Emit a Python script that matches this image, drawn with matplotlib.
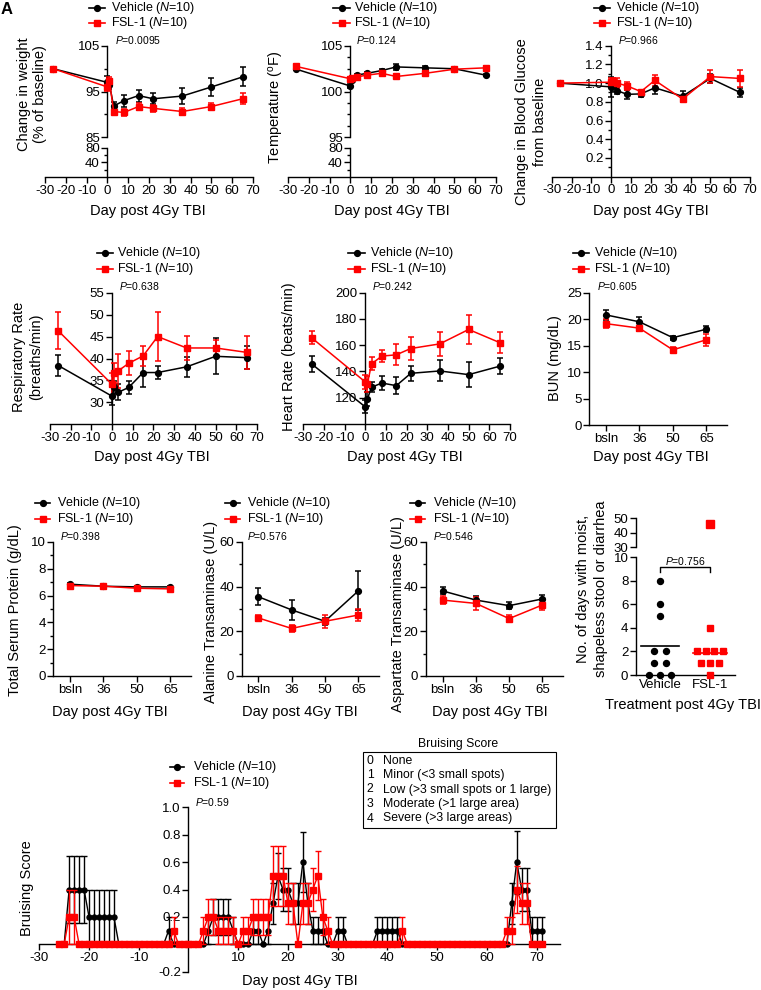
import numpy as np
import matplotlib
matplotlib.use('Agg')
import matplotlib.pyplot as plt
from matplotlib.lines import Line2D
from matplotlib.patches import Rectangle
from matplotlib.ticker import FixedLocator, FormatStrFormatter

plt.rcParams['font.family'] = ['Liberation Sans', 'DejaVu Sans']
plt.rcParams['mathtext.fontset'] = 'custom'
plt.rcParams['mathtext.rm'] = 'Liberation Sans'
plt.rcParams['mathtext.it'] = 'Liberation Sans:italic'
plt.rcParams['axes.unicode_minus'] = False
plt.rcParams['axes.linewidth'] = 1.0

# ---------------- DATA ----------------
series_names = ['Vehicle', 'FSL-1']
n_per_group = [10, 10]
days = [-26, 0, 1, 3, 8, 15, 22, 36, 50, 65]

weight_veh = [100, 97.0, 96.5, 91.8, 93.0, 94.1, 93.4, 94.0, 96.0, 98.2]
weight_veh_err = [0, 1.3, 1.0, 0.8, 1.3, 1.3, 1.2, 1.8, 2.0, 2.1]
weight_fsl = [100, 96.0, 97.3, 90.6, 90.4, 91.7, 91.3, 90.6, 91.7, 93.4]
weight_fsl_err = [0, 0.8, 0.8, 0.6, 0.8, 0.8, 0.8, 0.7, 0.8, 1.2]

temp_veh = [102.45, 100.6, 101.3, 101.8, 102.0, 102.3, 102.7, 102.6, 102.5, 101.8]
temp_veh_err = [0.1, 0.2, 0.15, 0.1, 0.15, 0.15, 0.3, 0.15, 0.1, 0.15]
temp_fsl = [102.75, 101.4, 101.5, 101.6, 101.8, 102.0, 101.65, 102.0, 102.45, 102.6]
temp_fsl_err = [0.1, 0.15, 0.15, 0.15, 0.2, 0.15, 0.15, 0.35, 0.1, 0.15]

gluc_veh = [1.0, 0.96, 0.97, 0.92, 0.88, 0.885, 0.95, 0.86, 1.05, 0.90]
gluc_veh_err = [0, 0.11, 0.06, 0.04, 0.05, 0.03, 0.07, 0.06, 0.05, 0.05]
gluc_fsl = [1.0, 1.01, 1.02, 1.0, 0.97, 0.91, 1.03, 0.83, 1.07, 1.05]
gluc_fsl_err = [0, 0.05, 0.04, 0.05, 0.04, 0.02, 0.06, 0.03, 0.07, 0.09]

resp_veh = [38.4, 31.4, 33.4, 32.3, 33.4, 36.8, 36.8, 38.1, 40.5, 40.2]
resp_veh_err = [2.5, 2.0, 1.5, 1.8, 1.5, 3.2, 1.4, 2.3, 4.1, 2.6]
resp_fsl = [46.3, 34.1, 36.7, 37.2, 38.9, 40.6, 45.0, 42.4, 42.4, 41.4]
resp_fsl_err = [4.2, 2.5, 2.3, 3.9, 2.7, 2.2, 5.5, 2.7, 1.8, 3.8]

hr_veh = [145.8, 113, 119, 128, 131.2, 129.2, 138.6, 140.4, 137.6, 144]
hr_veh_err = [6, 5, 5, 4, 5, 6.5, 5.5, 8, 9.5, 6]
hr_fsl = [165.7, 132, 130.4, 145.8, 151.7, 152.7, 157.5, 161, 172, 162]
hr_fsl_err = [5, 5, 6, 5, 4.5, 8, 9, 9, 11, 8]

chem_days = ['bsln', '36', '50', '65']
bun_veh = [20.8, 19.5, 16.5, 18.1]
bun_veh_err = [1.0, 1.0, 0.4, 0.6]
bun_fsl = [19.15, 18.3, 14.2, 16.1]
bun_fsl_err = [0.8, 0.5, 0.5, 1.1]

tsp_veh = [6.85, 6.7, 6.65, 6.65]
tsp_veh_err = [0.1, 0.08, 0.08, 0.08]
tsp_fsl = [6.75, 6.7, 6.55, 6.5]
tsp_fsl_err = [0.1, 0.08, 0.1, 0.1]

alt_veh = [35.5, 29.6, 24.5, 38.1]
alt_veh_err = [3.8, 4.5, 1.5, 8.7]
alt_fsl = [26.0, 21.3, 24.5, 27.3]
alt_fsl_err = [1.2, 1.7, 3.0, 2.8]

ast_veh = [38.1, 34.0, 31.5, 34.5]
ast_veh_err = [1.6, 2.0, 1.5, 1.8]
ast_fsl = [34.0, 32.5, 25.7, 31.8]
ast_fsl_err = [1.8, 3.0, 1.6, 2.2]

stool_veh = [8, 6, 5, 2, 2, 1, 1, 0, 0, 0]
stool_fsl = [46, 4, 2, 2, 2, 2, 1, 1, 1, 0]
stool_lines = [2.5, 1.9]

p_values = {'weight': '0.0095', 'temp': '0.124', 'gluc': '0.966', 'resp': '0.638',
            'hr': '0.242', 'bun': '0.605', 'tsp': '0.398', 'alt': '0.576',
            'ast': '0.546', 'stool': '0.756', 'bruise': '0.59'}

bruise_days = [-26, -25, -24, -23, -22, -21, -20, -19, -18, -17, -16, -15,
               -14, -13, -12, -11, -10, -9, -8, -7, -6, -5,
               -4, -3, -2, -1, 0, 1, 2, 3,
               4, 5, 6, 7, 8, 9, 10, 11, 12, 13, 14, 15,
               16, 17, 18, 19, 20, 21, 22, 23, 24, 25, 26, 27, 28, 29, 30, 31,
               32, 33, 34, 35, 36, 37, 38, 39, 40, 41, 42, 43, 44, 45, 46, 47,
               48, 49, 50, 51, 52, 53, 54, 55, 56, 57, 58, 59, 60, 61, 62, 63,
               64, 65, 66, 67, 68, 69, 70, 71]
bruise_veh = [0, 0, 0.4, 0.4, 0.4, 0.4, 0.2, 0.2, 0.2, 0.2, 0.2, 0.2,
              0, 0, 0, 0, 0, 0, 0, 0, 0, 0,
              0.1, 0, 0, 0, 0, 0, 0, 0,
              0.1, 0.2, 0.2, 0.2, 0.2, 0.1, 0, 0, 0, 0.1, 0.1, 0,
              0.1, 0.3, 0.5, 0.4, 0.4, 0.3, 0.3, 0.6, 0.3, 0.1, 0.1, 0.1, 0, 0, 0.1, 0.1,
              0, 0, 0, 0, 0, 0, 0.1, 0.1, 0.1, 0.1, 0.1, 0, 0, 0, 0, 0,
              0, 0, 0, 0, 0, 0, 0, 0, 0, 0, 0, 0, 0, 0, 0, 0,
              0, 0.3, 0.6, 0.4, 0.4, 0.1, 0.1, 0.1]
bruise_veh_err = [0, 0, 0.245, 0.245, 0.245, 0.245, 0.2, 0.2, 0.2, 0.2, 0.2, 0.2,
                  0, 0, 0, 0, 0, 0, 0, 0, 0, 0,
                  0.1, 0, 0, 0, 0, 0, 0, 0,
                  0.1, 0.13, 0.13, 0.13, 0.13, 0.1, 0, 0, 0, 0.1, 0.1, 0,
                  0.1, 0.15, 0.17, 0.16, 0.16, 0.15, 0.15, 0.22, 0.15, 0.1, 0.1, 0.1, 0, 0, 0.1, 0.1,
                  0, 0, 0, 0, 0, 0, 0.1, 0.1, 0.1, 0.1, 0.1, 0, 0, 0, 0, 0,
                  0, 0, 0, 0, 0, 0, 0, 0, 0, 0, 0, 0, 0, 0, 0, 0,
                  0, 0.15, 0.23, 0.16, 0.16, 0.1, 0.1, 0.1]
bruise_fsl = [0, 0, 0.2, 0.2, 0, 0, 0, 0, 0, 0, 0, 0,
              0, 0, 0, 0, 0, 0, 0, 0, 0, 0,
              0, 0.1, 0, 0, 0, 0, 0, 0.1,
              0.2, 0.2, 0.1, 0.1, 0.1, 0.1, 0, 0.1, 0.1, 0.2, 0.2, 0.2,
              0.2, 0.5, 0.5, 0.5, 0.3, 0.3, 0, 0.3, 0.3, 0.4, 0.5, 0.2, 0.1, 0, 0, 0,
              0, 0, 0, 0, 0, 0, 0, 0, 0, 0, 0, 0.1, 0, 0, 0, 0,
              0, 0, 0, 0, 0, 0, 0, 0, 0, 0, 0, 0, 0, 0, 0, 0,
              0.1, 0.1, 0.4, 0.3, 0.3, 0, 0, 0]
bruise_fsl_err = [0, 0, 0.2, 0.2, 0, 0, 0, 0, 0, 0, 0, 0,
                  0, 0, 0, 0, 0, 0, 0, 0, 0, 0,
                  0, 0.1, 0, 0, 0, 0, 0, 0.1,
                  0.13, 0.13, 0.1, 0.1, 0.1, 0.1, 0, 0.1, 0.1, 0.13, 0.13, 0.13,
                  0.13, 0.22, 0.22, 0.22, 0.15, 0.15, 0, 0.15, 0.15, 0.16, 0.18, 0.13, 0.1, 0, 0, 0,
                  0, 0, 0, 0, 0, 0, 0, 0, 0, 0, 0, 0.1, 0, 0, 0, 0,
                  0, 0, 0, 0, 0, 0, 0, 0, 0, 0, 0, 0, 0, 0, 0, 0,
                  0.1, 0.1, 0.17, 0.15, 0.15, 0, 0, 0]

bruise_scale = ['None', 'Minor (<3 small spots)', 'Low (>3 small spots or 1 large)',
                'Moderate (>1 large area)', 'Severe (>3 large areas)']

# ---------------- FIGURE ----------------
W, H = 761, 990
fig = plt.figure(figsize=(W / 100, H / 100), dpi=100)

TICK_FS = 9.5
LAB_FS = 10.5
LEG_FS = 9
P_FS = 7.5
VEH_C = 'black'
FSL_C = '#ff0000'


def px_axes(left, top, right, bottom):
    return fig.add_axes([left / W, 1 - bottom / H, (right - left) / W, (bottom - top) / H])


def ftext(x, y, s, **kw):
    return fig.text(x / W, 1 - y / H, s, **kw)


def style(ax):
    for s in ['top', 'right']:
        ax.spines[s].set_visible(False)
    ax.tick_params(which='major', length=4, width=1, labelsize=TICK_FS, pad=1.5)
    ax.tick_params(which='minor', length=2.5, width=1)
    ax.patch.set_alpha(0)


def series(ax, x, y, e, color, marker, ms, lw=1.1, cap=2.5):
    ax.errorbar(x, y, yerr=e, color=color, marker=marker, ms=ms, lw=lw,
                elinewidth=lw, capsize=cap, capthick=lw, zorder=3)


def legend(x0, x1, xt, y1, y2):
    items = [(y1, VEH_C, 'o', 4.2, series_names[0], n_per_group[0]),
             (y2, FSL_C, 's', 5.0, series_names[1], n_per_group[1])]
    for y, c, m, ms, name, n in items:
        yy = 1 - y / H
        fig.add_artist(Line2D([x0 / W, x1 / W], [yy, yy], color=c, lw=1.2, transform=fig.transFigure))
        fig.add_artist(Line2D([(x0 + x1) / 2 / W], [yy], color=c, marker=m, ms=ms, transform=fig.transFigure))
        ftext(xt, y, f'{name} ($\\mathit{{N}}$={n})', fontsize=LEG_FS, va='center', ha='left')


def ptext(x, y, key):
    ftext(x, y, f'$\\mathit{{P}}$={p_values[key]}', fontsize=P_FS, va='center', ha='left')


def ylab(x, y, s, ls=1.25):
    ftext(x, y, s, fontsize=LAB_FS, rotation=90, ha='center', va='center',
          multialignment='center', linespacing=ls)


def xlab(x, y, s):
    ftext(x, y, s, fontsize=LAB_FS, ha='center', va='center')


def broken_timecourse(left, right, top, brk_top, brk_bot, bottom, up_lim, up_ticks, up_minor,
                      lo_lim, lo_ticks, lo_minor, veh, veh_e, fsl, fsl_e):
    axu = px_axes(left, top, right, brk_top)
    axl = px_axes(left, brk_bot, right, bottom)
    for ax in (axu, axl):
        style(ax)
        ax.set_xlim(-30, 70)
        ax.spines['left'].set_position(('data', 0))
    axu.spines['bottom'].set_visible(False)
    axu.tick_params(axis='x', which='both', bottom=False, labelbottom=False)
    axu.set_ylim(*up_lim)
    axu.yaxis.set_major_locator(FixedLocator(up_ticks))
    axu.yaxis.set_minor_locator(FixedLocator(up_minor))
    axl.set_ylim(*lo_lim)
    axl.yaxis.set_major_locator(FixedLocator(lo_ticks))
    axl.yaxis.set_minor_locator(FixedLocator(lo_minor))
    axl.set_xticks(range(-30, 71, 10))
    series(axu, days, veh, veh_e, VEH_C, 'o', 4.2)
    series(axu, days, fsl, fsl_e, FSL_C, 's', 5.0)
    return axu, axl


def timecourse(left, right, top, bottom, ylim, yticks, yminor, veh, veh_e, fsl, fsl_e, fmt=None):
    ax = px_axes(left, top, right, bottom)
    style(ax)
    ax.set_xlim(-30, 70)
    ax.set_ylim(*ylim)
    ax.spines['left'].set_position(('data', 0))
    ax.set_xticks(range(-30, 71, 10))
    ax.yaxis.set_major_locator(FixedLocator(yticks))
    if yminor is not None:
        ax.yaxis.set_minor_locator(FixedLocator(yminor))
    if fmt:
        ax.yaxis.set_major_formatter(FormatStrFormatter(fmt))
    series(ax, days, veh, veh_e, VEH_C, 'o', 4.2)
    series(ax, days, fsl, fsl_e, FSL_C, 's', 5.0)
    return ax


def category(left, right, top, bottom, ylim, yticks, yminor, veh, veh_e, fsl, fsl_e):
    ax = px_axes(left, top, right, bottom)
    style(ax)
    x = np.arange(len(chem_days))
    ax.set_xlim(-0.5, 3.62)
    ax.set_ylim(*ylim)
    ax.set_xticks(x)
    ax.set_xticklabels(chem_days)
    ax.yaxis.set_major_locator(FixedLocator(yticks))
    if yminor is not None:
        ax.yaxis.set_minor_locator(FixedLocator(yminor))
    series(ax, x, veh, veh_e, VEH_C, 'o', 4.2)
    series(ax, x, fsl, fsl_e, FSL_C, 's', 5.0)
    return ax


# Panel letter
ftext(1, 9, 'A', fontsize=12, fontweight='bold', va='center', ha='left')

# ---------- Row 1 ----------
broken_timecourse(45, 253, 46, 137, 147.5, 177, (85, 105), [85, 95, 105], [90, 100],
                  (0, 80), [40, 80], [20, 60], weight_veh, weight_veh_err, weight_fsl, weight_fsl_err)
legend(89, 105, 111.5, 7.5, 23)
ptext(115, 39.5, 'weight')
ylab(32, 94, 'Change in weight\n(% of baseline)')
xlab(148, 211, 'Day post 4Gy TBI')

broken_timecourse(288, 496, 46, 137, 147.5, 177, (95, 105), [95, 100, 105],
                  [96.25, 97.5, 98.75, 101.25, 102.5, 103.75],
                  (0, 80), [40, 80], [20, 60], temp_veh, temp_veh_err, temp_fsl, temp_fsl_err)
legend(333, 350, 354, 7.5, 23)
ptext(356, 39.5, 'temp')
ylab(277, 107, 'Temperature ($^{\\mathrm{o}}$F)')
xlab(392, 211, 'Day post 4Gy TBI')

timecourse(551.7, 750, 45.7, 176.7, (0, 1.4), [0.2, 0.4, 0.6, 0.8, 1.0, 1.2, 1.4],
           [0.1, 0.3, 0.5, 0.7, 0.9, 1.1, 1.3], gluc_veh, gluc_veh_err, gluc_fsl, gluc_fsl_err, fmt='%.1f')
legend(594, 610, 616, 7.5, 23)
ptext(618, 39.5, 'gluc')
ylab(522, 122, 'Change in Blood Glucose')
ylab(540.5, 122, 'from baseline')
xlab(651, 211, 'Day post 4Gy TBI')

# ---------- Row 2 ----------
timecourse(50, 257, 292.7, 424.3, (25, 55), [30, 35, 40, 45, 50, 55], None,
           resp_veh, resp_veh_err, resp_fsl, resp_fsl_err)
legend(97, 113, 117.3, 252.7, 269)
ptext(119.3, 286, 'resp')
ylab(27.5, 357, 'Respiratory Rate\n(breaths/min)')
xlab(152, 457, 'Day post 4Gy TBI')

timecourse(303.3, 510, 292.7, 424, (100, 200), [120, 140, 160, 180, 200], None,
           hr_veh, hr_veh_err, hr_fsl, hr_fsl_err)
legend(348, 365, 370, 252.7, 269)
ptext(371.7, 286, 'hr')
ylab(289, 357, 'Heart Rate (beats/min)')
xlab(405, 457, 'Day post 4Gy TBI')

category(589.3, 727, 292.7, 425, (0, 25), [0, 5, 10, 15, 20, 25], None,
         bun_veh, bun_veh_err, bun_fsl, bun_fsl_err)
legend(572.7, 589.3, 594.3, 252.7, 269)
ptext(596.7, 286, 'bun')
ylab(555, 358, 'BUN (mg/dL)')
xlab(651, 457, 'Day post 4Gy TBI')

# ---------- Row 3 ----------
category(53.3, 191, 542, 676, (0, 10), [0, 2, 4, 6, 8, 10], [1, 3, 5, 7, 9],
         tsp_veh, tsp_veh_err, tsp_fsl, tsp_fsl_err)
legend(35, 50, 57.3, 503, 519.3)
ptext(60, 536, 'tsp')
ylab(15, 610, 'Total Serum Protein (g/dL)')
xlab(110, 712, 'Day post 4Gy TBI')

category(241.6, 379, 542, 676, (0, 60), [0, 20, 40, 60], [10, 30, 50],
         alt_veh, alt_veh_err, alt_fsl, alt_fsl_err)
legend(225, 240, 246.7, 503, 519.3)
ptext(246.7, 536, 'alt')
ylab(211, 612, 'Alanine Transaminase (U/L)')
xlab(300, 712, 'Day post 4Gy TBI')

category(426, 563, 542, 676, (0, 60), [0, 20, 40, 60], [10, 30, 50],
         ast_veh, ast_veh_err, ast_fsl, ast_fsl_err)
legend(410, 425, 432.7, 503, 519.3)
ptext(433.3, 536, 'ast')
ylab(398, 614, 'Aspartate Transaminase (U/L)')
xlab(490, 712, 'Day post 4Gy TBI')

# Stool panel (broken y axis)
axsu = px_axes(636, 518.3, 735, 547.3)
axsl = px_axes(636, 557.3, 735, 675)
for ax in (axsu, axsl):
    style(ax)
    ax.set_xlim(-0.48, 1.5)
axsu.spines['bottom'].set_visible(False)
axsu.tick_params(axis='x', which='both', bottom=False, labelbottom=False)
axsu.set_ylim(30, 50)
axsu.set_yticks([30, 40, 50])
axsl.set_ylim(0, 10)
axsl.set_yticks([0, 2, 4, 6, 8, 10])
axsl.set_xticks([0, 1])
axsl.set_xticklabels(series_names)
axsl.tick_params(axis='x', length=0, pad=3)


def swarm_x(vals, center, spacing):
    vals = np.asarray(vals, dtype=float)
    xs = np.zeros_like(vals)
    for v in np.unique(vals):
        idx = np.where(vals == v)[0]
        k = len(idx)
        xs[idx] = center + (np.arange(k) - (k - 1) / 2) * spacing
    return xs


for gi, (vals, c, m, ms, sp) in enumerate([(stool_veh, VEH_C, 'o', 4.3, 0.228),
                                           (stool_fsl, FSL_C, 's', 4.4, 0.175)]):
    xs = swarm_x(vals, gi, sp)
    vals = np.asarray(vals, dtype=float)
    lo = vals <= 10
    axsl.plot(xs[lo], vals[lo], ls='none', marker=m, color=c, ms=ms, clip_on=False, zorder=3)
    axsu.plot(xs[~lo], vals[~lo], ls='none', marker=m, color=c, ms=ms + 2, clip_on=False, zorder=3)
axsl.plot([-0.38, 0.38], [stool_lines[0]] * 2, color=VEH_C, lw=1.2, zorder=2)
axsl.plot([1 - 0.34, 1 + 0.34], [stool_lines[1]] * 2, color=FSL_C, lw=1.2, zorder=2)
axsl.plot([0, 0, 1, 1], [8.75, 9.15, 9.15, 8.75], color='black', lw=1.0, clip_on=False)
axsl.text(0.5, 9.7, f'$\\mathit{{P}}$={p_values["stool"]}', fontsize=P_FS, ha='center', va='center')
ylab(592, 589, 'No. of days with moist,\nshapeless stool or diarrhea', ls=1.3)
xlab(683, 705, 'Treatment post 4Gy TBI')

# ---------- Bottom: bruising ----------
axb = px_axes(39.3, 807.3, 560, 971.7)
style(axb)
axb.set_xlim(-30, 74.7)
axb.set_ylim(-0.2, 1.0)
axb.spines['left'].set_position(('data', 0))
axb.spines['bottom'].set_position(('data', 0))
axb.set_xticks([-30, -20, -10, 10, 20, 30, 40, 50, 60, 70])
axb.set_yticks([-0.2, 0.2, 0.4, 0.6, 0.8, 1.0])
axb.yaxis.set_major_formatter(FormatStrFormatter('%.1f'))
axb.errorbar(bruise_days, bruise_veh, yerr=bruise_veh_err, color=VEH_C, marker='o', ms=3.6,
             lw=1.0, elinewidth=1.0, capsize=2.5, capthick=1.0, zorder=3, clip_on=False)
axb.errorbar(bruise_days, bruise_fsl, yerr=bruise_fsl_err, color=FSL_C, marker='s', ms=4.6,
             lw=1.0, elinewidth=1.0, capsize=2.5, capthick=1.0, zorder=4, clip_on=False)
legend(170, 184, 193.3, 767, 782.7)
ptext(195, 801.7, 'bruise')
ylab(27, 888, 'Bruising Score')
xlab(300, 981, 'Day post 4Gy TBI')

# Bruising score key
ftext(458, 744, 'Bruising Score', fontsize=8.8, ha='center', va='center')
box = Rectangle((363 / W, 1 - 828 / H), (556 - 363) / W, (828 - 752) / H, transform=fig.transFigure,
                fill=False, edgecolor='black', lw=0.8)
fig.add_artist(box)
for i, desc in enumerate(bruise_scale):
    y = 760.5 + i * 14.5
    ftext(366.7, y, str(i), fontsize=8.8, ha='left', va='center')
    ftext(383.3, y, desc, fontsize=8.8, ha='left', va='center')

fig.savefig('out.png', dpi=100)
